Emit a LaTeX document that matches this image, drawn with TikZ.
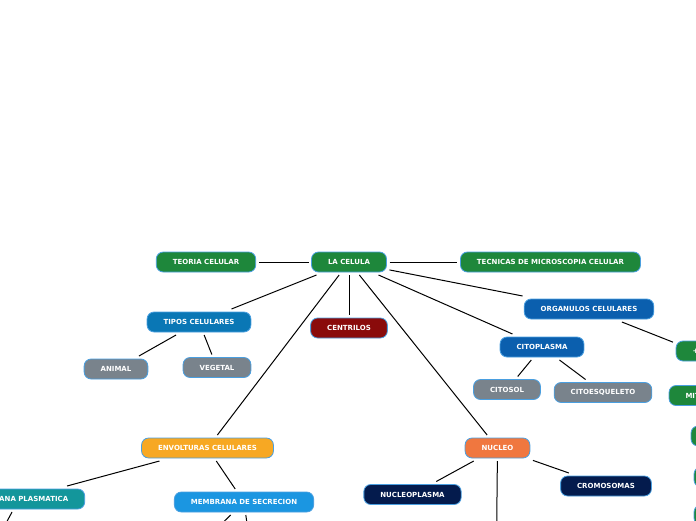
\documentclass[tikz,border=0pt]{standalone}
\usepackage{fontspec}
\setmainfont{DejaVu Sans}
\usepackage{tikz}
\usetikzlibrary{positioning,calc}
\definecolor{cgreen}{HTML}{1E873B}
\definecolor{ctipos}{HTML}{0A77B5}
\definecolor{corgan}{HTML}{0B5FAE}
\definecolor{cred}{HTML}{8A0B0B}
\definecolor{cgray}{HTML}{79838C}
\definecolor{corange}{HTML}{F7A823}
\definecolor{cnucleo}{HTML}{F0773F}
\definecolor{cteal}{HTML}{13969B}
\definecolor{csecre}{HTML}{1B96E1}
\definecolor{cnavy}{HTML}{041B4D}
\definecolor{cborder}{HTML}{4A9FE0}
\begin{document}
\begin{tikzpicture}[x=1pt,y=-1pt]
\tikzset{topic/.style={draw=cborder,line width=0.8pt,rounded corners=7pt,text=white,font=\fontsize{7}{8}\selectfont\bfseries,inner xsep=16.5pt,inner ysep=0pt,minimum height=20pt,outer sep=3pt},
hidden/.style={inner sep=0pt,minimum size=0pt,outer sep=0pt},
link/.style={draw=black,line width=1pt}}
\useasboundingbox (0,0) rectangle (696,520);
\clip (0,0) rectangle (696,520);
\node[topic,fill=cgreen] (celula) at (349,262) {LA CELULA};
\node[topic,fill=cgreen] (teoria) at (206,262) {TEORIA CELULAR};
\node[topic,fill=cgreen] (tecnicas) at (550.5,262) {TECNICAS DE MICROSCOPIA CELULAR};
\node[topic,fill=ctipos] (tipos) at (199,322) {TIPOS CELULARES};
\node[topic,fill=cred] (centrilos) at (349,328) {CENTRILOS};
\node[topic,fill=corgan] (organulos) at (589,309) {ORGANULOS CELULARES};
\node[topic,fill=corgan] (citoplasma) at (542,347) {CITOPLASMA};
\node[topic,fill=cgray] (animal) at (116,369) {ANIMAL};
\node[topic,fill=cgray] (vegetal) at (217,367.5) {VEGETAL};
\node[topic,fill=cgray] (citosol) at (507,389.5) {CITOSOL};
\node[topic,fill=cgray] (citoesq) at (603,392.5) {CITOESQUELETO};
\node[topic,fill=cgreen,anchor=west] (mas) at (673,351) {+};
\node[topic,fill=cgreen,anchor=west] (mitocon) at (666,395.5) {MITOCONDRIAS};
\node[topic,fill=cgreen,minimum width=60pt,anchor=west] (orgA) at (688,436) {};
\node[topic,fill=cgreen,minimum width=60pt,anchor=west] (orgB) at (691,477) {};
\node[topic,fill=cgreen,minimum width=60pt,anchor=west] (orgC) at (691,515) {};
\node[topic,fill=corange] (envolt) at (207.5,448) {ENVOLTURAS CELULARES};
\node[topic,fill=cteal] (plasmat) at (19,499) {MEMBRANA PLASMATICA};
\node[topic,fill=csecre] (secrec) at (244,502) {MEMBRANA DE SECRECION};
\node[topic,fill=cnucleo] (nucleo) at (497.5,448) {NUCLEO};
\node[topic,fill=cnavy] (nucleopl) at (412.5,494.5) {NUCLEOPLASMA};
\node[topic,fill=cnavy] (cromos) at (606,486) {CROMOSOMAS};
\node[hidden] (plasmatA) at (-3,540) {};
\node[hidden] (secrecA) at (205,540) {};
\node[hidden] (secrecB) at (250,545) {};
\node[hidden] (nucleoA) at (496.5,545) {};
\draw[link] (celula) -- (teoria);
\draw[link] (celula) -- (tecnicas);
\draw[link] (celula) -- (tipos);
\draw[link] (celula) -- (centrilos);
\draw[link] (celula) -- (envolt);
\draw[link] (celula) -- (nucleo);
\draw[link] (celula) -- (citoplasma);
\draw[link] (celula) -- (organulos);
\draw[link] (organulos) -- (mas);
\draw[link] (tipos) -- (animal);
\draw[link] (tipos) -- (vegetal);
\draw[link] (citoplasma) -- (citosol);
\draw[link] (citoplasma) -- (citoesq);
\draw[link] (envolt) -- (plasmat);
\draw[link] (envolt) -- (secrec);
\draw[link] (plasmat) -- (plasmatA);
\draw[link] (secrec) -- (secrecA);
\draw[link] (secrec) -- (secrecB);
\draw[link] (nucleo) -- (nucleopl);
\draw[link] (nucleo) -- (cromos);
\draw[link] (nucleo) -- (nucleoA);
\end{tikzpicture}
\end{document}
